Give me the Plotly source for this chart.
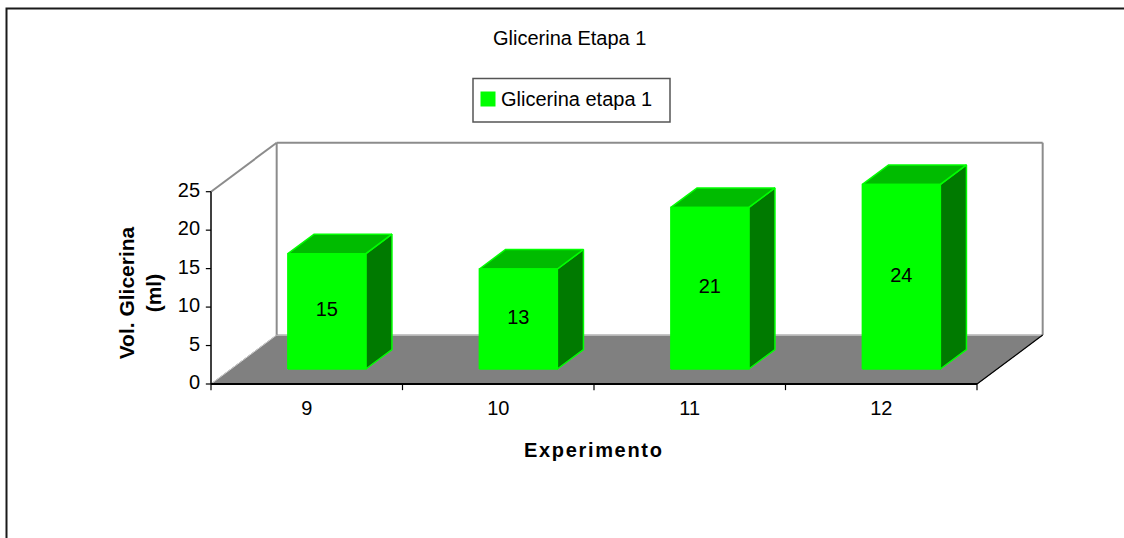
import plotly.graph_objects as go

# ---- data ----
experimentos = ["9", "10", "11", "12"]
glicerina_ml = [15, 13, 21, 24]
y_ticks = [0, 5, 10, 15, 20, 25]
series_name = "Glicerina etapa 1"
chart_title = "Glicerina Etapa 1"

# ---- pseudo-3D geometry (data units) ----
Y_MAX = 25
N = len(experimentos)
DX, DY = 0.343, 6.37          # offset of the back plane relative to the front plane
BAR_W = 0.407                 # bar width as fraction of a category
Z_FRONT, Z_BACK = 0.306, 0.704  # depth span of the bars (0 = front, 1 = back)

FRONT = "#00FF00"
TOP = "#00BB00"
SIDE = "#007A00"
FLOOR = "#808080"
WALL = "#8C8C8C"
FONT = "Liberation Sans, Arial, sans-serif"
FS = 20

W, H = 1124, 538
PX_X = 191.5   # pixels per category
PX_Y = 7.692   # pixels per ml
X0_PX, Y0_PX = 211, 384
X_RANGE = [-X0_PX / PX_X, (W - X0_PX) / PX_X]
Y_RANGE = [-(H - Y0_PX) / PX_Y, Y0_PX / PX_Y]


def proj(x, y, z):
    return x + z * DX, y + z * DY


def poly(points, fill, line_color, width=1.5):
    xs, ys = zip(*[proj(*p) for p in points])
    xs = list(xs) + [xs[0]]
    ys = list(ys) + [ys[0]]
    return go.Scatter(
        x=xs, y=ys, mode="lines", fill="toself" if fill else None,
        fillcolor=fill, line=dict(color=line_color, width=width),
        hoverinfo="skip", showlegend=False,
    )


def seg(p1, p2, color, width=1.5):
    a, b = proj(*p1), proj(*p2)
    return go.Scatter(x=[a[0], b[0]], y=[a[1], b[1]], mode="lines",
                      line=dict(color=color, width=width),
                      hoverinfo="skip", showlegend=False)


fig = go.Figure()

# outer frame: left and top edges of the chart area
frame_x = X_RANGE[0] + 6.5 / PX_X
frame_y = Y_RANGE[1] - 8.5 / PX_Y
fig.add_trace(go.Scatter(x=[frame_x, frame_x, X_RANGE[1] + 0.2],
                         y=[Y_RANGE[0] - 1, frame_y, frame_y], mode="lines",
                         line=dict(color="#1A1A1A", width=2),
                         hoverinfo="skip", showlegend=False))

# floor
fig.add_trace(poly([(0, 0, 0), (N, 0, 0), (N, 0, 1), (0, 0, 1)], FLOOR, FLOOR, 1))
# back wall and side wall outline
fig.add_trace(seg((0, 0, 1), (N, 0, 1), "#C8C8C8", 1.5))
fig.add_trace(seg((0, 0, 1), (0, Y_MAX, 1), WALL, 2))
fig.add_trace(seg((0, Y_MAX, 1), (N, Y_MAX, 1), WALL, 2))
fig.add_trace(seg((N, Y_MAX, 1), (N, 0, 1), WALL, 2))
fig.add_trace(seg((0, Y_MAX, 0), (0, Y_MAX, 1), WALL, 2))
fig.add_trace(seg((0, 0, 0), (0, 0, 1), "#D0D0D0", 1))
fig.add_trace(seg((N, 0, 0), (N, 0, 1), "#000000", 1.2))

# bars
for i, v in enumerate(glicerina_ml):
    xc = i + 0.5
    xl, xr = xc - BAR_W / 2, xc + BAR_W / 2
    fig.add_trace(poly([(xr, 0, Z_FRONT), (xr, v, Z_FRONT), (xr, v, Z_BACK), (xr, 0, Z_BACK)],
                       SIDE, FRONT, 1.5))
    fig.add_trace(poly([(xl, v, Z_FRONT), (xr, v, Z_FRONT), (xr, v, Z_BACK), (xl, v, Z_BACK)],
                       TOP, FRONT, 1.5))
    fig.add_trace(poly([(xl, 0, Z_FRONT), (xr, 0, Z_FRONT), (xr, v, Z_FRONT), (xl, v, Z_FRONT)],
                       FRONT, FRONT, 1.5))

# value labels on the bar fronts
lab = [proj(i + 0.5, v / 2, Z_FRONT) for i, v in enumerate(glicerina_ml)]
fig.add_trace(go.Scatter(
    x=[p[0] for p in lab], y=[p[1] for p in lab], mode="text",
    text=[str(v) for v in glicerina_ml], textposition="middle center",
    textfont=dict(family=FONT, size=FS, color="#000000"),
    hoverinfo="skip", showlegend=False))

# value axis
TICK_X = 0.027
fig.add_trace(go.Scatter(x=[0, 0], y=[0, Y_MAX], mode="lines",
                         line=dict(color="#000000", width=1.5),
                         hoverinfo="skip", showlegend=False))
for t in y_ticks:
    fig.add_trace(go.Scatter(x=[-TICK_X, 0], y=[t, t], mode="lines",
                             line=dict(color="#000000", width=1.2),
                             hoverinfo="skip", showlegend=False))
fig.add_trace(go.Scatter(
    x=[-TICK_X - 0.03] * len(y_ticks), y=y_ticks, mode="text",
    text=[str(t) for t in y_ticks], textposition="middle left",
    textfont=dict(family=FONT, size=FS, color="#000000"),
    hoverinfo="skip", showlegend=False))

# category axis
TICK_Y = 0.8
fig.add_trace(go.Scatter(x=[0, N], y=[0, 0], mode="lines",
                         line=dict(color="#000000", width=2),
                         hoverinfo="skip", showlegend=False))
for k in range(N + 1):
    fig.add_trace(go.Scatter(x=[k, k], y=[0, -TICK_Y], mode="lines",
                             line=dict(color="#000000", width=1.2),
                             hoverinfo="skip", showlegend=False))
fig.add_trace(go.Scatter(
    x=[i + 0.5 for i in range(N)], y=[-3.4] * N, mode="text",
    text=experimentos, textposition="middle center",
    textfont=dict(family=FONT, size=FS, color="#000000"),
    hoverinfo="skip", showlegend=False))

annotations = [
    dict(text=chart_title, x=569 / W, y=1 - 38 / H, xref="paper", yref="paper",
         showarrow=False, font=dict(family=FONT, size=FS, color="#000000"),
         xanchor="center", yanchor="middle"),
    dict(text=series_name, x=499 / W, y=1 - 99 / H, xref="paper", yref="paper",
         showarrow=False, font=dict(family=FONT, size=FS, color="#000000"),
         xanchor="left", yanchor="middle"),
    dict(text="<b>E x p e r i m e n t o</b>".replace(" ", "\u200a"), x=1.995, y=-8.6,
         xref="x", yref="y",
         showarrow=False, font=dict(family=FONT, size=FS, color="#000000"),
         xanchor="center", yanchor="middle"),
    dict(text="<b>Vol. Glicerina<br>(ml)</b>", x=-0.37, y=11.8, xref="x", yref="y",
         textangle=-90, showarrow=False,
         font=dict(family=FONT, size=21, color="#000000"),
         xanchor="center", yanchor="middle"),
]

shapes = [
    # legend box and swatch
    dict(type="rect", xref="paper", yref="paper", x0=473 / W, x1=670 / W,
         y0=1 - 122 / H, y1=1 - 78.5 / H, line=dict(color="#555555", width=1.5),
         fillcolor="white"),
    dict(type="rect", xref="paper", yref="paper", x0=480.5 / W, x1=495.5 / W,
         y0=1 - 106.5 / H, y1=1 - 91.5 / H, line=dict(width=0), fillcolor=FRONT),
]

fig.update_layout(
    width=W, height=H, autosize=False,
    margin=dict(l=0, r=0, t=0, b=0, pad=0),
    paper_bgcolor="white", plot_bgcolor="white",
    showlegend=False,
    xaxis=dict(visible=False, range=X_RANGE),
    yaxis=dict(visible=False, range=Y_RANGE),
    annotations=annotations,
    shapes=shapes,
)

fig.write_html("out.html", config={"displayModeBar": False})
